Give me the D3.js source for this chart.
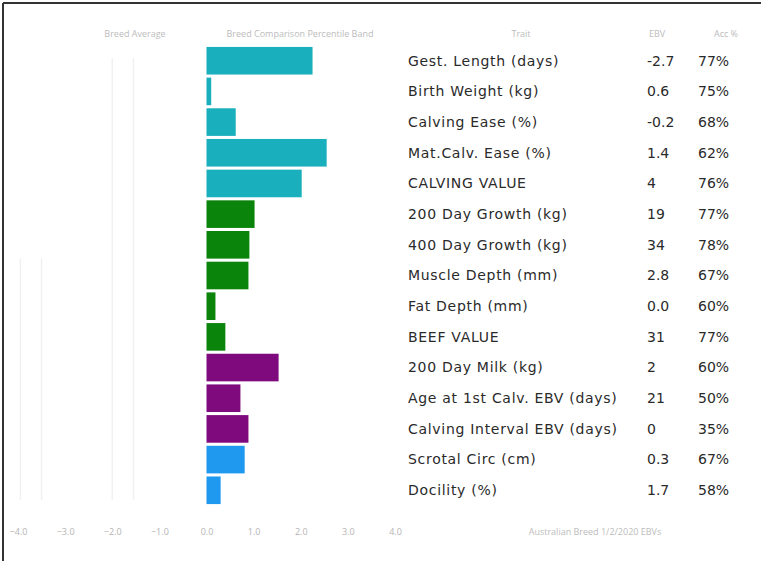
<!DOCTYPE html>
<html><head><meta charset="utf-8">
<script src="https://cdn.jsdelivr.net/npm/d3@7/dist/d3.min.js"></script>
<style>html,body{margin:0;padding:0;background:#fff;}svg{display:block;}</style>
</head><body>
<script>
const traits = ["Gest. Length (days)","Birth Weight (kg)","Calving Ease (%)","Mat.Calv. Ease (%)","CALVING VALUE","200 Day Growth (kg)","400 Day Growth (kg)","Muscle Depth (mm)","Fat Depth (mm)","BEEF VALUE","200 Day Milk (kg)","Age at 1st Calv. EBV (days)","Calving Interval EBV (days)","Scrotal Circ (cm)","Docility (%)"];
const ebv = ["-2.7","0.6","-0.2","1.4","4","19","34","2.8","0.0","31","2","21","0","0.3","1.7"];
const acc = ["77%","75%","68%","62%","76%","77%","78%","67%","60%","77%","60%","50%","35%","67%","58%"];
const barValues = [2.25,0.1,0.62,2.55,2.02,1.02,0.91,0.89,0.19,0.4,1.53,0.72,0.89,0.81,0.3];
const groups = ["calving","calving","calving","calving","calving","growth","growth","growth","growth","growth","maternal","maternal","maternal","other","other"];
const groupNames = ["calving","growth","maternal","other"];
const groupColors = ["#19afbc","#0b840b","#7e0a7e","#1f98f0"];
const tickValues = [-4,-3,-2,-1,0,1,2,3,4];
const headers = ["Trait","EBV","Acc %"];

const W=761,H=561;
const svg=d3.select("body").append("svg").attr("width",W).attr("height",H);
const font="'Open Sans', sans-serif";
const tfont="'DejaVu Sans', sans-serif";

// frame (top and left)
svg.append("line").attr("x1",3).attr("x2",W).attr("y1",3).attr("y2",3).attr("stroke","#333").attr("stroke-width",2);
svg.append("line").attr("x1",3).attr("x2",3).attr("y1",3).attr("y2",H).attr("stroke","#333").attr("stroke-width",2);

const x=d3.scaleLinear().domain([-4,4]).range([18,395]);
const y=d3.scaleBand().domain(traits).range([46,505]).paddingInner(0.1).paddingOuter(0.03);
const color=d3.scaleOrdinal().domain(groupNames).range(groupColors);

// faint grid
svg.append("g").selectAll("line").data([-3.95,-3.5,-2,-1.55]).join("line")
  .attr("x1",d=>x(d)).attr("x2",d=>x(d)).attr("y1",(d,i)=>i<2?258:58).attr("y2",500)
  .attr("stroke","#f1f1f1").attr("stroke-width",1.5);

// bars
svg.append("g").selectAll("rect").data(traits).join("rect")
  .attr("x",x(0)).attr("y",d=>y(d)).attr("height",y.bandwidth())
  .attr("width",(d,i)=>x(barValues[i])-x(0))
  .attr("fill",(d,i)=>color(groups[i]));

// axis
const ax=svg.append("g").attr("transform","translate(0,532)")
  .call(d3.axisBottom(x).tickValues(tickValues).tickSize(0).tickFormat(d3.format(".1f")));
ax.select(".domain").remove();
ax.selectAll("text").attr("fill","#b4b4b4").attr("font-size",9).attr("font-family",font).attr("dy",0);

// left headers
svg.append("text").attr("x",135).attr("y",37).attr("text-anchor","middle").attr("font-size",9)
  .attr("font-family",font).attr("fill","#bcbcbc").text("Breed Average");
svg.append("text").attr("x",300).attr("y",37).attr("text-anchor","middle").attr("font-size",9)
  .attr("font-family",font).attr("fill","#bcbcbc").text("Breed Comparison Percentile Band");

// table headers
const hx=[521,657,726];
svg.append("g").selectAll("text").data(headers).join("text")
  .attr("x",(d,i)=>hx[i]).attr("y",37).attr("text-anchor","middle").attr("font-size",9)
  .attr("font-family",font).attr("fill","#bcbcbc").text(d=>d);

// table rows
const rows=svg.append("g").attr("font-family",tfont).attr("font-size",14).attr("letter-spacing","0.7px").attr("fill","#2a2a2a");
rows.selectAll(".t").data(traits).join("text").attr("class","t")
  .attr("x",408).attr("y",d=>y(d)+y.bandwidth()/2).attr("dy","0.35em").text(d=>d);
rows.selectAll(".e").data(traits).join("text").attr("class","e")
  .attr("x",647).attr("y",d=>y(d)+y.bandwidth()/2).attr("dy","0.35em").attr("letter-spacing","0px").text((d,i)=>ebv[i]);
rows.selectAll(".a").data(traits).join("text").attr("class","a")
  .attr("x",698).attr("y",d=>y(d)+y.bandwidth()/2).attr("dy","0.35em").attr("letter-spacing","0px").text((d,i)=>acc[i]);

// footer
svg.append("text").attr("x",595).attr("y",535).attr("text-anchor","middle").attr("font-size",9)
  .attr("font-family",font).attr("fill","#bcbcbc").text("Australian Breed 1/2/2020 EBVs");
</script>
</body></html>
